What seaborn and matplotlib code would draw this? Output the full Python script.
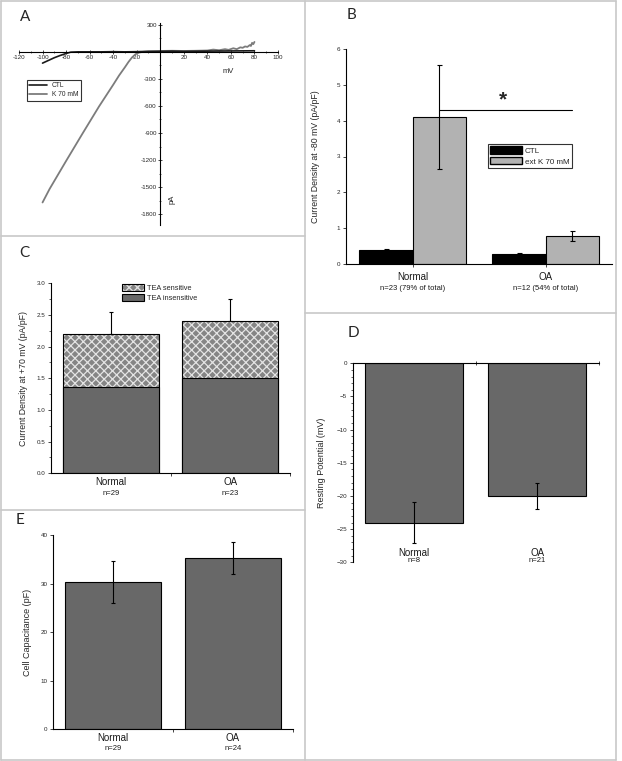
import numpy as np
import pandas as pd
import matplotlib
matplotlib.use("Agg")
import matplotlib.pyplot as plt
import seaborn as sns
from matplotlib.lines import Line2D
from matplotlib.patches import Patch, Rectangle
from matplotlib.ticker import MultipleLocator
from matplotlib.transforms import blended_transform_factory
from matplotlib.legend_handler import HandlerTuple

sns.set_style("ticks")
plt.rcParams["font.family"] = ["Liberation Sans", "DejaVu Sans"]
plt.rcParams["hatch.linewidth"] = 0.9

# A - I/V traces
ctl_mv = [-100, -95, -90, -85, -80, -76, -70, -60, -50, -40, -30, -20, -10, 0, 10, 20, 40, 60, 80]
ctl_pa = [-125, -95, -65, -40, -18, -3, 0, 0, 0, 2, 0, 2, 5, 5, 8, 5, 8, 10, 12]
k70_mv = [-100, -94, -80, -66, -52, -40, -35, -30, -27, -24, -21, -18, -15, -10, 0, 10, 20, 30, 40, 45,
          50, 55, 58, 62, 65, 68, 70, 72, 74, 76, 77, 78, 79, 80]
k70_pa = [-1670, -1520, -1210, -905, -605, -365, -262, -170, -112, -62, -26, -8, 0, 5, 10, 12, 10, 12, 15, 25,
          18, 30, 22, 40, 30, 50, 45, 60, 55, 75, 65, 100, 85, 110]

# B - current density at -80 mV
b_groups = ["Normal", "Normal", "OA", "OA"]
b_conds = ["CTL", "ext K 70 mM", "CTL", "ext K 70 mM"]
b_means = [0.38, 4.1, 0.27, 0.78]
b_errs = [0.04, 1.45, 0.03, 0.15]
b_n = ["n=23 (79% of total)", "n=12 (54% of total)"]

# C - current density at +70 mV
c_groups = ["Normal", "OA"]
c_total = [2.2, 2.41]
c_insens = [1.36, 1.5]
c_errs = [0.35, 0.35]
c_n = ["n=29", "n=23"]

# D - resting potential
d_groups = ["Normal", "OA"]
d_means = [-24.0, -20.0]
d_errs = [3.05, 1.95]
d_n = ["n=8", "n=21"]

# E - cell capacitance
e_groups = ["Normal", "OA"]
e_means = [30.4, 35.3]
e_errs = [4.3, 3.35]
e_n = ["n=29", "n=24"]

DARK = "#686868"
LIGHT = "#b2b2b2"
HATCHFACE = "#858585"
W, H = 622, 761
fig = plt.figure(figsize=(W / 100, H / 100), dpi=100)


def px_axes(x0, y0, x1, y1):
    return fig.add_axes([x0 / W, 1 - y1 / H, (x1 - x0) / W, (y1 - y0) / H])


def fig_line(x0, y0, x1, y1):
    fig.add_artist(Line2D([x0 / W, x1 / W], [1 - y0 / H, 1 - y1 / H],
                          transform=fig.transFigure, color="#c8c8c8", lw=1.2))


def group_labels(ax, names, ns, y1, y2):
    trans = blended_transform_factory(ax.transData, ax.transAxes)
    for i, (nm, n) in enumerate(zip(names, ns)):
        ax.text(i, y1, nm, transform=trans, ha="center", va="center", fontsize=7, color=".1")
        ax.text(i, y2, n, transform=trans, ha="center", va="center", fontsize=5.5, color=".1")


def style_bar_axes(ax):
    sns.despine(ax=ax)
    ax.tick_params(direction="out", length=2.5, width=0.6, labelsize=4.5, pad=1.5)
    ax.tick_params(which="minor", direction="out", length=1.5, width=0.5)
    for s in ax.spines.values():
        s.set_linewidth(0.8)
        s.set_color("black")
    ax.set_xlabel("")


# panel frames
fig_line(0.5, 0.5, 616, 0.5)
fig_line(0.5, 760, 616, 760)
fig_line(0.5, 0.5, 0.5, 760)
fig_line(616, 0.5, 616, 760)
fig_line(305, 0.5, 305, 760)
fig_line(0.5, 236, 305, 236)
fig_line(0.5, 510, 305, 510)
fig_line(305, 313, 616, 313)

for letter, (x, y) in zip("ABCDE", [(25, 17), (352, 15), (24, 253), (353, 333), (20, 520)]):
    fig.text(x / W, 1 - y / H, letter, fontsize=11, ha="center", va="center",
             family=["Lato", "DejaVu Sans"])

# ---- A
ax = px_axes(19, 23, 278, 225)
sns.lineplot(x=k70_mv, y=k70_pa, sort=False, estimator=None, color="#7c7c7c", lw=1.3, ax=ax)
sns.lineplot(x=ctl_mv, y=ctl_pa, sort=False, estimator=None, color="#1a1a1a", lw=1.2, ax=ax)
ax.set_xlim(-120, 100)
ax.set_ylim(-1920, 320)
ax.spines["left"].set_position(("data", 0))
ax.spines["bottom"].set_position(("data", 0))
ax.spines["top"].set_visible(False)
ax.spines["right"].set_visible(False)
for s in ("left", "bottom"):
    ax.spines[s].set_linewidth(0.8)
    ax.spines[s].set_color("black")
xt = list(range(-120, 101, 20))
ax.set_xticks(xt, [str(v) if v != 0 else "" for v in xt])
yt = list(range(-1800, 301, 300))
ax.set_yticks(yt, [str(v) if v != 0 else "" for v in yt])
ax.xaxis.set_minor_locator(MultipleLocator(10))
ax.yaxis.set_minor_locator(MultipleLocator(150))
ax.tick_params(direction="inout", length=3, width=0.6, labelsize=4.5, pad=1)
ax.tick_params(which="minor", direction="inout", length=2, width=0.5)
ax.set_facecolor("none")
ax.text(58, -222, "mV", fontsize=5.5, ha="center", va="center")
ax.text(10, -1640, "pA", fontsize=5.5, ha="center", va="center", rotation=90)
ax.legend(handles=[Line2D([], [], color="#1a1a1a", lw=1.2), Line2D([], [], color="#7c7c7c", lw=1.3)],
          labels=["CTL", "K 70 mM"], loc="upper left", bbox_to_anchor=(0.03, 0.72),
          fontsize=4.8, frameon=True, fancybox=False, edgecolor="black", handlelength=2.6,
          borderaxespad=0, borderpad=0.4, labelspacing=0.3).get_frame().set_linewidth(0.8)

# ---- B
ax = px_axes(346, 49, 612, 264)
df_b = pd.DataFrame({"group": b_groups, "cond": b_conds, "value": b_means})
sns.barplot(data=df_b, x="group", y="value", hue="cond", palette={"CTL": "black", "ext K 70 mM": LIGHT},
            saturation=1, edgecolor="black", linewidth=0.8, errorbar=None, legend=False, ax=ax)
bar_conts = list(ax.containers)
for ci, cont in enumerate(bar_conts):
    for gi, bar in enumerate(cont):
        k = gi * 2 + ci
        ax.errorbar(bar.get_x() + bar.get_width() / 2, b_means[k], yerr=b_errs[k], fmt="none",
                    ecolor="black", elinewidth=0.8, capsize=1.8, capthick=0.8)
ax.plot([0.2, 1.2], [4.3, 4.3], color="black", lw=0.8)
ax.text(0.68, 4.58, "*", fontsize=15, fontweight="bold", ha="center", va="center")
ax.set_ylim(0, 6)
ax.set_xlim(-0.5, 1.5)
ax.set_xticks([0, 1], ["", ""])
ax.set_ylabel("Current Density at -80 mV (pA/pF)", fontsize=6.3)
ax.yaxis.set_label_coords(-0.098, 0.5)
style_bar_axes(ax)
group_labels(ax, ["Normal", "OA"], b_n, -0.06, -0.116)
ax.legend(handles=[Patch(facecolor="black", edgecolor="black"), Patch(facecolor=LIGHT, edgecolor="black")],
          labels=["CTL", "ext K 70 mM"], loc="upper left", bbox_to_anchor=(0.534, 0.558),
          fontsize=5.8, frameon=True, fancybox=False, edgecolor="black", handlelength=3.9,
          handleheight=1.0, borderaxespad=0, borderpad=0.3, labelspacing=0.3,
          handletextpad=0.4).get_frame().set_linewidth(0.8)

# ---- C
ax = px_axes(51, 283.3, 290, 473.3)
sns.barplot(x=c_groups, y=c_total, color=HATCHFACE, saturation=1, errorbar=None, ax=ax)
for p in list(ax.patches):
    p.set_hatch("xxxx")
    p.set_edgecolor("#e4e4e4")
    p.set_linewidth(0)
    ax.add_patch(Rectangle(p.get_xy(), p.get_width(), p.get_height(), fill=False,
                           edgecolor="black", lw=0.8))
sns.barplot(x=c_groups, y=c_insens, color=DARK, saturation=1, edgecolor="black", linewidth=0.8,
            errorbar=None, ax=ax)
ax.errorbar([0, 1], c_total, yerr=[[0, 0], c_errs], fmt="none", ecolor="black",
            elinewidth=0.8, capsize=1.5, capthick=0.8)
ax.set_ylim(0, 3)
ax.set_xlim(-0.5, 1.5)
ax.set_yticks(np.arange(0, 3.01, 0.5), [f"{v:.1f}" for v in np.arange(0, 3.01, 0.5)])
ax.yaxis.set_minor_locator(MultipleLocator(0.25))
ax.set_xticks([0.5, 1.5], ["", ""])
ax.set_ylabel("Current Density at +70 mV (pA/pF)", fontsize=6.3)
ax.yaxis.set_label_coords(-0.096, 0.5)
style_bar_axes(ax)
group_labels(ax, c_groups, c_n, -0.046, -0.104)
hp = Patch(facecolor=HATCHFACE, edgecolor="#e4e4e4", hatch="xxxx", lw=0)
hp_out = Patch(facecolor="none", edgecolor="black", lw=0.8)
ax.legend(handles=[(hp, hp_out), Patch(facecolor=DARK, edgecolor="black", lw=0.8)],
          labels=["TEA sensitive", "TEA insensitive"], handler_map={tuple: HandlerTuple(ndivide=1, pad=0)},
          loc="upper left", bbox_to_anchor=(0.295, 0.995), frameon=False, fontsize=5.3,
          handlelength=3.0, handleheight=1.1, borderaxespad=0, borderpad=0, labelspacing=0.25,
          handletextpad=0.4)

# ---- D
ax = px_axes(352.7, 363.3, 598.7, 562.3)
sns.barplot(x=d_groups, y=d_means, color=DARK, saturation=1, edgecolor="black", linewidth=0.8,
            errorbar=None, ax=ax)
ax.errorbar([0, 1], d_means, yerr=d_errs, fmt="none", ecolor="black", elinewidth=0.8,
            capsize=1.5, capthick=0.8)
ax.set_ylim(-30, 0)
ax.set_xlim(-0.5, 1.5)
ax.set_yticks(range(-30, 1, 5))
ax.yaxis.set_minor_locator(MultipleLocator(1))
ax.set_ylabel("Resting Potential (mV)", fontsize=6.5)
ax.yaxis.set_label_coords(-0.108, 0.5)
style_bar_axes(ax)
ax.spines["top"].set_visible(True)
ax.spines["bottom"].set_visible(False)
ax.spines["top"].set_linewidth(0.8)
ax.spines["top"].set_color("black")
ax.xaxis.set_ticks_position("top")
ax.set_xticks([0.5, 1.5], ["", ""])
ax.tick_params(axis="x", direction="inout", length=3)
group_labels(ax, d_groups, d_n, 0.045, 0.008)

# ---- E
ax = px_axes(53, 535, 293, 729.3)
sns.barplot(x=e_groups, y=e_means, color=DARK, saturation=1, edgecolor="black", linewidth=0.8,
            errorbar=None, ax=ax)
ax.errorbar([0, 1], e_means, yerr=e_errs, fmt="none", ecolor="black", elinewidth=0.8,
            capsize=1.5, capthick=0.8)
ax.set_ylim(0, 40)
ax.set_xlim(-0.5, 1.5)
ax.set_yticks(range(0, 41, 10))
ax.set_xticks([0.5, 1.5], ["", ""])
ax.set_ylabel("Cell Capacitance (pF)", fontsize=6.5)
ax.yaxis.set_label_coords(-0.0875, 0.5)
style_bar_axes(ax)
group_labels(ax, e_groups, e_n, -0.046, -0.1)

fig.savefig("out.png", dpi=100)
